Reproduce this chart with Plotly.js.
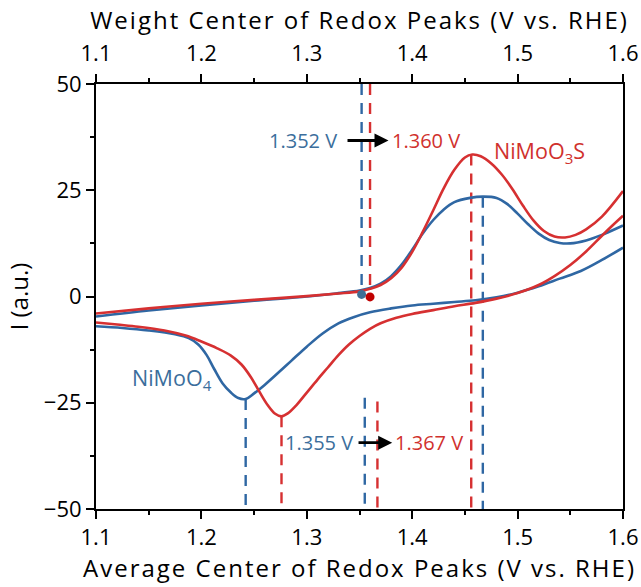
<!DOCTYPE html>
<html>
<head>
<meta charset="utf-8">
<script src="https://cdn.plot.ly/plotly-3.0.1.min.js"></script>
<style>
html,body{margin:0;padding:0;background:#fff;}
#chart{width:641px;height:587px;}
text.xtitle, text.x2title { letter-spacing: 2px; }
</style>
</head>
<body>
<div id="chart"></div>
<script>
// ---- data ----
// NiMoO4 (blue): anodic (upper) and cathodic (lower) branches
const blueUpX = [1.10,1.15,1.20,1.25,1.30,1.33,1.35,1.36,1.37,1.38,1.39,1.40,1.41,1.42,1.43,1.44,1.455,1.467,1.48,1.49,1.50,1.51,1.52,1.53,1.54,1.55,1.565,1.58,1.60];
const blueUpY = [-4.7,-3.3,-2.1,-1.0,0.0,0.8,1.4,2.0,3.0,4.8,7.5,11.0,14.8,18.0,20.5,22.2,23.2,23.5,23.2,21.8,19.5,17.0,14.8,13.3,12.6,12.5,13.2,14.5,16.7];
const blueDnX = [1.60,1.58,1.56,1.54,1.52,1.50,1.48,1.46,1.44,1.42,1.40,1.38,1.36,1.345,1.33,1.315,1.30,1.285,1.27,1.26,1.25,1.242,1.235,1.228,1.22,1.212,1.205,1.197,1.188,1.175,1.15,1.125,1.10];
const blueDnY = [11.5,8.6,6.0,4.2,2.4,0.9,-0.2,-0.9,-1.3,-1.7,-2.1,-2.8,-3.7,-4.8,-6.3,-8.7,-11.8,-15.2,-18.6,-20.8,-22.8,-24.1,-23.9,-22.6,-20.4,-17.0,-13.8,-11.3,-9.8,-8.9,-8.0,-7.4,-7.0];
// NiMoO3S (red)
const redUpX = [1.10,1.15,1.20,1.25,1.30,1.33,1.35,1.36,1.37,1.38,1.39,1.40,1.41,1.42,1.43,1.44,1.45,1.457,1.465,1.475,1.485,1.495,1.505,1.515,1.525,1.535,1.545,1.555,1.565,1.58,1.60];
const redUpY = [-4.0,-2.8,-1.7,-0.8,0.1,0.7,1.2,1.8,2.7,4.3,6.8,10.5,15.2,20.3,25.5,29.8,32.7,33.4,33.0,31.3,28.7,25.3,21.4,17.9,15.4,14.1,13.9,14.5,15.8,18.8,24.8];
const redDnX = [1.60,1.59,1.58,1.565,1.55,1.535,1.52,1.50,1.48,1.46,1.44,1.42,1.40,1.385,1.37,1.36,1.35,1.34,1.33,1.32,1.31,1.30,1.29,1.282,1.276,1.27,1.263,1.255,1.247,1.238,1.228,1.215,1.20,1.185,1.165,1.14,1.12,1.10];
const redDnY = [19.0,16.7,14.3,10.6,7.4,4.8,2.7,0.8,-0.5,-1.5,-2.3,-3.2,-4.1,-5.0,-6.3,-7.6,-9.3,-11.3,-13.8,-16.7,-19.6,-22.6,-25.6,-27.5,-28.2,-27.6,-25.6,-22.4,-19.0,-16.0,-13.9,-12.2,-10.6,-9.2,-8.0,-7.1,-6.6,-6.1];

// weight-centre points and dashed markers (blue, red)
const weightCenterX = [1.352, 1.360];
const weightCenterY = [0.5, -0.1];
const avgCenterX = [1.355, 1.367];
const avgCenterTopY = [-23.8, -24.7];
const bluePeakX = [1.242, 1.467];
const bluePeakY = [-24.1, 23.5];
const redPeakX = [1.276, 1.456];
const redPeakY = [-28.2, 33.4];
const labelWeight = ['1.352 V', '1.360 V'];
const labelAvg = ['1.355 V', '1.367 V'];
const seriesNames = ['NiMoO<sub>4</sub>', 'NiMoO<sub>3</sub>S'];
const yMin = -50, yMax = 50;

const BLUE = '#2f67a3', RED = '#d63031';
const BLUE_T = '#3b6e9c', RED_T = '#d0312d';
const FONT = 'Open Sans, Noto Sans, sans-serif';

function curve(x, y, c) {
  return {x: x, y: y, mode: 'lines', type: 'scatter', line: {color: c, width: 2.6, shape: 'spline', smoothing: 1},
          hoverinfo: 'skip', showlegend: false};
}
function vdash(x, y0, y1, c) {
  return {x: [x, x], y: [y0, y1], mode: 'lines', type: 'scatter', line: {color: c, width: 2.4, dash: '11px,8px'},
          hoverinfo: 'skip', showlegend: false};
}

const traces = [
  vdash(weightCenterX[0], yMax, weightCenterY[0], BLUE),
  vdash(weightCenterX[1], yMax, weightCenterY[1], RED),
  vdash(avgCenterX[0], avgCenterTopY[0], yMin, BLUE),
  vdash(avgCenterX[1], avgCenterTopY[1], yMin, RED),
  vdash(bluePeakX[0], bluePeakY[0], yMin, BLUE),
  vdash(bluePeakX[1], bluePeakY[1], yMin, BLUE),
  vdash(redPeakX[0], redPeakY[0], yMin, RED),
  vdash(redPeakX[1], redPeakY[1], yMin, RED),
  curve(blueUpX, blueUpY, BLUE),
  curve(blueDnX, blueDnY, BLUE),
  curve(redUpX, redUpY, RED),
  curve(redDnX, redDnY, RED),
  {x: [weightCenterX[0]], y: [weightCenterY[0]], mode: 'markers', type: 'scatter', marker: {color: '#3f6f96', size: 9}, hoverinfo: 'skip', showlegend: false},
  {x: [weightCenterX[1]], y: [weightCenterY[1]], mode: 'markers', type: 'scatter', marker: {color: '#c00000', size: 9}, hoverinfo: 'skip', showlegend: false},
  {x: [1.1, 1.6], y: [null, null], xaxis: 'x2', mode: 'lines', type: 'scatter', hoverinfo: 'skip', showlegend: false}
];

const axisCommon = {
  range: [1.1, 1.6], dtick: 0.1, tick0: 1.1, tickformat: '.1f',
  ticks: 'outside', ticklen: 8, tickwidth: 2, tickcolor: '#000',
  showline: true, linewidth: 2, linecolor: '#000',
  showgrid: false, zeroline: false,
  minor: {dtick: 0.05, ticks: 'outside', ticklen: 4, tickwidth: 2, tickcolor: '#000'},
  tickfont: {family: FONT, size: 22, color: '#000'}
};

const layout = {
  width: 641, height: 587,
  margin: {l: 96, r: 18, t: 84, b: 78},
  paper_bgcolor: '#fff', plot_bgcolor: '#fff',
  font: {family: FONT, color: '#000'},
  xaxis: Object.assign({}, axisCommon, {
    ticklabelstandoff: 0,
    title: {text: 'Average Center of Redox Peaks (V vs. RHE)', font: {family: FONT, size: 24, color: '#000'}, standoff: 2}
  }),
  xaxis2: Object.assign({}, axisCommon, {
    overlaying: 'x', side: 'top', anchor: 'y', ticklabelstandoff: 4,
    title: {text: 'Weight Center of Redox Peaks (V vs. RHE)', font: {family: FONT, size: 24, color: '#000'}, standoff: 1}
  }),
  yaxis: {
    range: [yMin, yMax], dtick: 25, tick0: 0,
    ticks: 'outside', ticklen: 8, tickwidth: 2, tickcolor: '#000',
    showline: true, linewidth: 2, linecolor: '#000', mirror: true,
    showgrid: false, zeroline: false,
    minor: {dtick: 12.5, ticks: 'outside', ticklen: 4, tickwidth: 2, tickcolor: '#000'},
    tickfont: {family: FONT, size: 22, color: '#000'},
    title: {text: 'I (a.u.)', font: {family: FONT, size: 24, color: '#000'}, standoff: 8}
  },
  annotations: [
    {x: 1.3775, y: 36.7, ax: 1.2964, ay: 36.7, xref: 'x', yref: 'y', axref: 'x', ayref: 'y',
     text: labelWeight[0], showarrow: true, arrowhead: 2, arrowsize: 1, arrowwidth: 2.8, arrowcolor: '#000', startstandoff: 9,
     font: {family: FONT, size: 20, color: BLUE_T}},
    {x: 1.379, y: 36.7, xref: 'x', yref: 'y', text: labelWeight[1], showarrow: false, xanchor: 'left', yanchor: 'middle', font: {family: FONT, size: 20, color: RED_T}},
    {x: 1.381, y: -34.4, ax: 1.3116, ay: -34.4, xref: 'x', yref: 'y', axref: 'x', ayref: 'y',
     text: labelAvg[0], showarrow: true, arrowhead: 2, arrowsize: 1, arrowwidth: 2.8, arrowcolor: '#000', startstandoff: 4,
     font: {family: FONT, size: 20, color: BLUE_T}},
    {x: 1.3818, y: -34.4, xref: 'x', yref: 'y', text: labelAvg[1], showarrow: false, xanchor: 'left', yanchor: 'middle', font: {family: FONT, size: 20, color: RED_T}},
    {x: 1.1325, y: -19.5, xref: 'x', yref: 'y', text: seriesNames[0], showarrow: false, xanchor: 'left', yanchor: 'middle', font: {family: FONT, size: 21.5, color: BLUE_T}},
    {x: 1.4755, y: 33.9, xref: 'x', yref: 'y', text: seriesNames[1], showarrow: false, xanchor: 'left', yanchor: 'middle', font: {family: FONT, size: 21.5, color: RED_T}}
  ]
};

Plotly.newPlot('chart', traces, layout, {displayModeBar: false, staticPlot: true});
</script>
</body>
</html>
